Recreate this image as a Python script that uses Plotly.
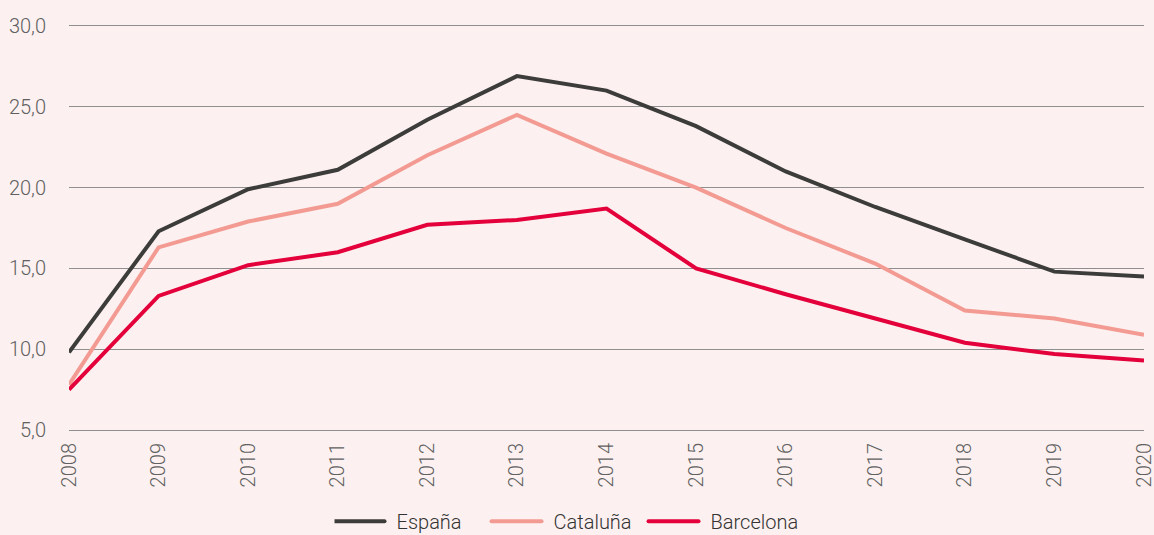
import plotly.graph_objects as go

years = ["2008", "2009", "2010", "2011", "2012", "2013", "2014", "2015", "2016", "2017", "2018", "2019", "2020"]
espana = [9.8, 17.3, 19.9, 21.1, 24.2, 26.9, 26.0, 23.8, 21.0, 18.8, 16.8, 14.8, 14.5]
cataluna = [7.8, 16.3, 17.9, 19.0, 22.0, 24.5, 22.1, 20.0, 17.5, 15.3, 12.4, 11.9, 10.9]
barcelona = [7.5, 13.3, 15.2, 16.0, 17.7, 18.0, 18.7, 15.0, 13.4, 11.9, 10.4, 9.7, 9.3]
y_ticks = [5, 10, 15, 20, 25, 30]
y_tick_labels = ["5,0", "10,0", "15,0", "20,0", "25,0", "30,0"]

series = [
    ("España", espana, "#3c3c3a"),
    ("Cataluña", cataluna, "#f39b93"),
    ("Barcelona", barcelona, "#e3003b"),
]

fig = go.Figure()
for name, vals, color in series:
    fig.add_trace(go.Scatter(
        x=years, y=vals, name=name, mode="lines",
        line=dict(color=color, width=4),
    ))

bg = "#fcf1f0"
tickfont = dict(family="Roboto", size=20, color="#606060", weight=300)
fig.update_layout(
    width=1154, height=535,
    paper_bgcolor=bg, plot_bgcolor=bg,
    margin=dict(l=69, r=10, t=26, b=105, autoexpand=False),
    font=dict(family="Roboto", size=20, color="#606060", weight=300),
    showlegend=True,
    legend=dict(
        orientation="h", x=0.247, xanchor="left", y=-0.226, yanchor="middle",
        font=dict(family="Roboto", size=20, color="#333333", weight=300),
        itemwidth=52, tracegroupgap=0, entrywidth=90,
        bgcolor="rgba(0,0,0,0)",
    ),
    xaxis=dict(
        type="category", tickangle=-90, showgrid=False, zeroline=False,
        showline=True, mirror=True, linecolor="#8f8f8f", linewidth=1, ticks="", range=[0, 12],
        tickfont=tickfont, ticklabelstandoff=4,
    ),
    yaxis=dict(
        range=[5, 30], tickvals=y_ticks, ticktext=y_tick_labels,
        showgrid=True, gridcolor="#8f8f8f", gridwidth=1, zeroline=False,
        showline=False, ticks="", ticklabelstandoff=22,
        tickfont=tickfont,
    ),
)

post = (
    "document.body.style.margin='0';document.body.style.overflow='hidden';"
    "document.querySelectorAll('.legendlines path').forEach(function(p){"
    "p.setAttribute('d','M0,0h50');p.style.strokeLinecap='round';});"
)

fig.write_html("out.html", config={"displayModeBar": False}, post_script=post)
